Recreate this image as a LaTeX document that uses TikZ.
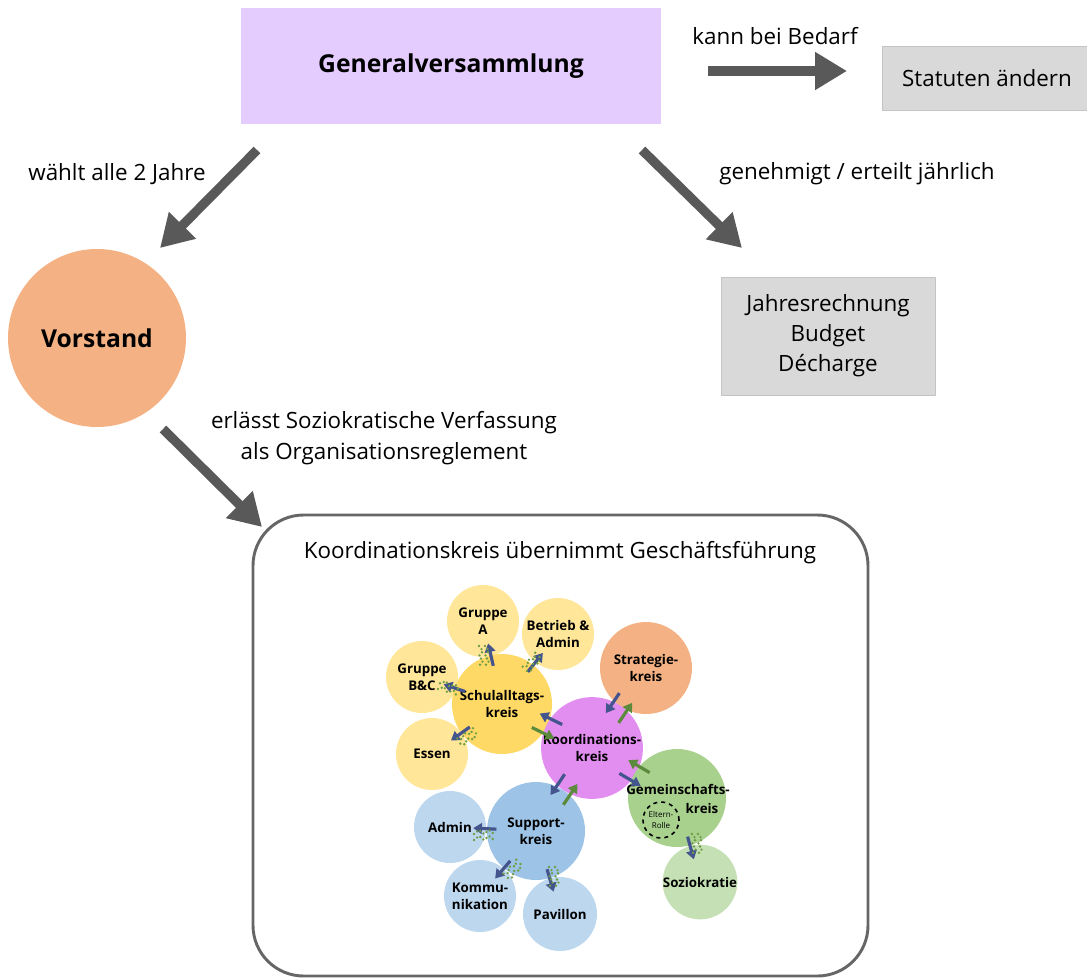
\documentclass[tikz,border=0pt]{standalone}
\usepackage{fontspec}
\setmainfont{Open Sans}
\usetikzlibrary{arrows.meta,calc,positioning}

\definecolor{lila}{HTML}{E5CCFF}
\definecolor{hellgrau}{HTML}{D9D9D9}
\definecolor{randgrau}{HTML}{C4C4C4}
\definecolor{pfeilgrau}{HTML}{595959}
\definecolor{rahmengrau}{HTML}{666666}
\definecolor{lachs}{HTML}{F4B183}
\definecolor{gelb}{HTML}{FFD966}
\definecolor{hellgelb}{HTML}{FFE699}
\definecolor{violett}{HTML}{E28EF0}
\definecolor{gruen}{HTML}{A9D18E}
\definecolor{hellgruen}{HTML}{C5E0B4}
\definecolor{blau}{HTML}{9DC3E6}
\definecolor{hellblau}{HTML}{BDD7EE}
\definecolor{dunkelblau}{HTML}{44548C}
\definecolor{dunkelgruen}{HTML}{5B8A3C}
\definecolor{punktgruen}{HTML}{6E9E45}

\begin{document}
\begin{tikzpicture}[x=0.75pt,y=-0.75pt,line join=round,
    >={Triangle[width=27pt,length=24pt]},
    pfeil/.style={->,color=pfeilgrau,line width=7pt},
    kasten/.style={fill=hellgrau,draw=randgrau,line width=0.6pt,align=center,font=\fontsize{16.8}{22.5}\selectfont},
    beschriftung/.style={align=center,font=\fontsize{16.8}{23}\selectfont},
    kreis/.style={circle,inner sep=0pt,minimum size=#1,align=center,font=\bfseries\fontsize{10}{13}\selectfont},
    kreistext/.style={inner sep=0pt,font=\bfseries\fontsize{10}{13}\selectfont},
    blaupfeil/.style={-{Triangle[width=8pt,length=6.5pt]},color=dunkelblau,line width=2.4pt},
    gruenpfeil/.style={-{Triangle[width=8pt,length=6.5pt]},color=dunkelgruen,line width=2.4pt},
    kette/.style={draw=punktgruen,line width=2pt,dash pattern=on 0pt off 3pt,line cap=round}]
  \useasboundingbox (0,0) rectangle (1087,978);

  % oberer Teil
  \node[fill=lila,minimum width=315pt,minimum height=87pt,font=\bfseries\fontsize{18.5}{22}\selectfont] (gv) at (451,66) {Generalversammlung};
  \node[kasten,minimum width=157.5pt,minimum height=48pt] (statuten) at (987,78) {Statuten ändern};
  \node[kasten,minimum width=160.5pt,minimum height=88.5pt] (rechnung) at (828,336) {Jahresrechnung\\Budget\\Décharge};
  \node[circle,fill=lachs,minimum size=133.5pt,font=\bfseries\fontsize{18.5}{22}\selectfont] (vorstand) at (97,338) {Vorstand};

  \node[beschriftung] (bedarf) at (775,36) {kann bei Bedarf};
  \node[beschriftung] (wahl) at (117,174) {wählt alle 2 Jahre};
  \node[beschriftung] (genehmigt) at (857,174) {genehmigt / erteilt jährlich};
  \node[beschriftung] (erlass) at (384,438) {erlässt Soziokratische Verfassung\\als Organisationsreglement};

  \coordinate (bedarf-a) at (708,71);
  \coordinate (bedarf-b) at (847,71);
  \coordinate (wahl-a) at (257,150);
  \coordinate (wahl-b) at (160,248);
  \coordinate (genehmigt-a) at (642,150);
  \coordinate (genehmigt-b) at (742,248);
  \coordinate (erlass-a) at (163,429);
  \coordinate (erlass-b) at (262,527);
  \draw[pfeil] (bedarf-a) -- (bedarf-b);
  \draw[pfeil] (wahl-a) -- (wahl-b);
  \draw[pfeil] (genehmigt-a) -- (genehmigt-b);
  \draw[pfeil] (erlass-a) -- (erlass-b);

  % Rahmen Koordinationskreis
  \draw[rahmengrau,line width=2.2pt,rounded corners=38pt] (253,515) rectangle (868,976);
  \node[beschriftung] (titel) at (560,553) {Koordinationskreis übernimmt Geschäftsführung};

  % Kreise
  \node[kreis=54pt,fill=hellgelb] (gruppeA) at (483,621) {Gruppe\\A};
  \node[kreis=54pt,fill=hellgelb] (betrieb) at (558,634) {Betrieb \&\\Admin};
  \node[kreis=54pt,fill=hellgelb] (gruppeBC) at (422,677) {Gruppe\\B\&C};
  \node[kreis=54pt,fill=hellgelb] (essen) at (432,754) {Essen};
  \node[kreis=75pt,fill=gelb] (schul) at (502,704) {Schulalltags-\\kreis};
  \node[kreis=69pt,fill=lachs] (strategie) at (646,668) {Strategie-\\kreis};
  \node[kreis=54pt,fill=hellgruen] (sozio) at (700,882) {Soziokratie};
  \node[kreis=54pt,fill=hellblau] (admin) at (450,827) {Admin};
  \node[kreis=54pt,fill=hellblau] (komm) at (480,896) {Kommu-\\nikation};
  \node[kreis=55.5pt,fill=hellblau] (pavillon) at (560,914) {Pavillon};
  \node[kreis=73.5pt,fill=blau] (support) at (536,831) {Support-\\kreis};
  \node[kreis=75pt,fill=violett] (koord) at (592,748) {Koordinations-\\kreis};
  \node[kreis=73.5pt,fill=gruen] (gemeinschaft) at (677,798) {};
  \node[kreistext] (gem-text) at (678,789) {Gemeinschafts-};
  \node[kreistext] (gem-kreis) at (702,808) {kreis};
  \node[circle,draw,dashed,line width=1.2pt,minimum size=27pt,inner sep=0pt,align=center,font=\fontsize{6}{8}\selectfont] (eltern) at (661,820) {Eltern-\\Rolle};

  % Pfeile zwischen den Kreisen
  \foreach \a/\b in {schul/gruppeA,schul/betrieb,schul/gruppeBC,schul/essen,support/admin,support/komm,support/pavillon,gemeinschaft/sozio}
    \draw[blaupfeil] ($(\a)!0.46!(\b)$) -- ($(\a)!0.73!(\b)$);
  \foreach \a/\b in {koord/schul,strategie/koord,koord/gemeinschaft,koord/support}
    \draw[blaupfeil] ($(\a)!0.37!(\b)!6pt!-90:(\b)$) -- ($(\a)!0.62!(\b)!6pt!-90:(\b)$);
  \foreach \a/\b in {schul/koord,koord/strategie,gemeinschaft/koord,support/koord}
    \draw[gruenpfeil] ($(\a)!0.37!(\b)!6pt!-90:(\b)$) -- ($(\a)!0.62!(\b)!6pt!-90:(\b)$);

  % gepunktete Verbindungen
  \foreach \x/\y/\w in {484/657/0,531/664/-45,450/688/70,466/738/-60,485/835/90,512/871/-45,554/878/0,697/845/0}
    \draw[kette,shift={(\x,\y)},rotate=\w] (-5,-11) -- (-1,-6) -- (-5,-1) -- (-1,4) -- (-5,9)
      (1,-11) -- (5,-6) -- (1,-1) -- (5,4) -- (1,9);
\end{tikzpicture}
\end{document}
